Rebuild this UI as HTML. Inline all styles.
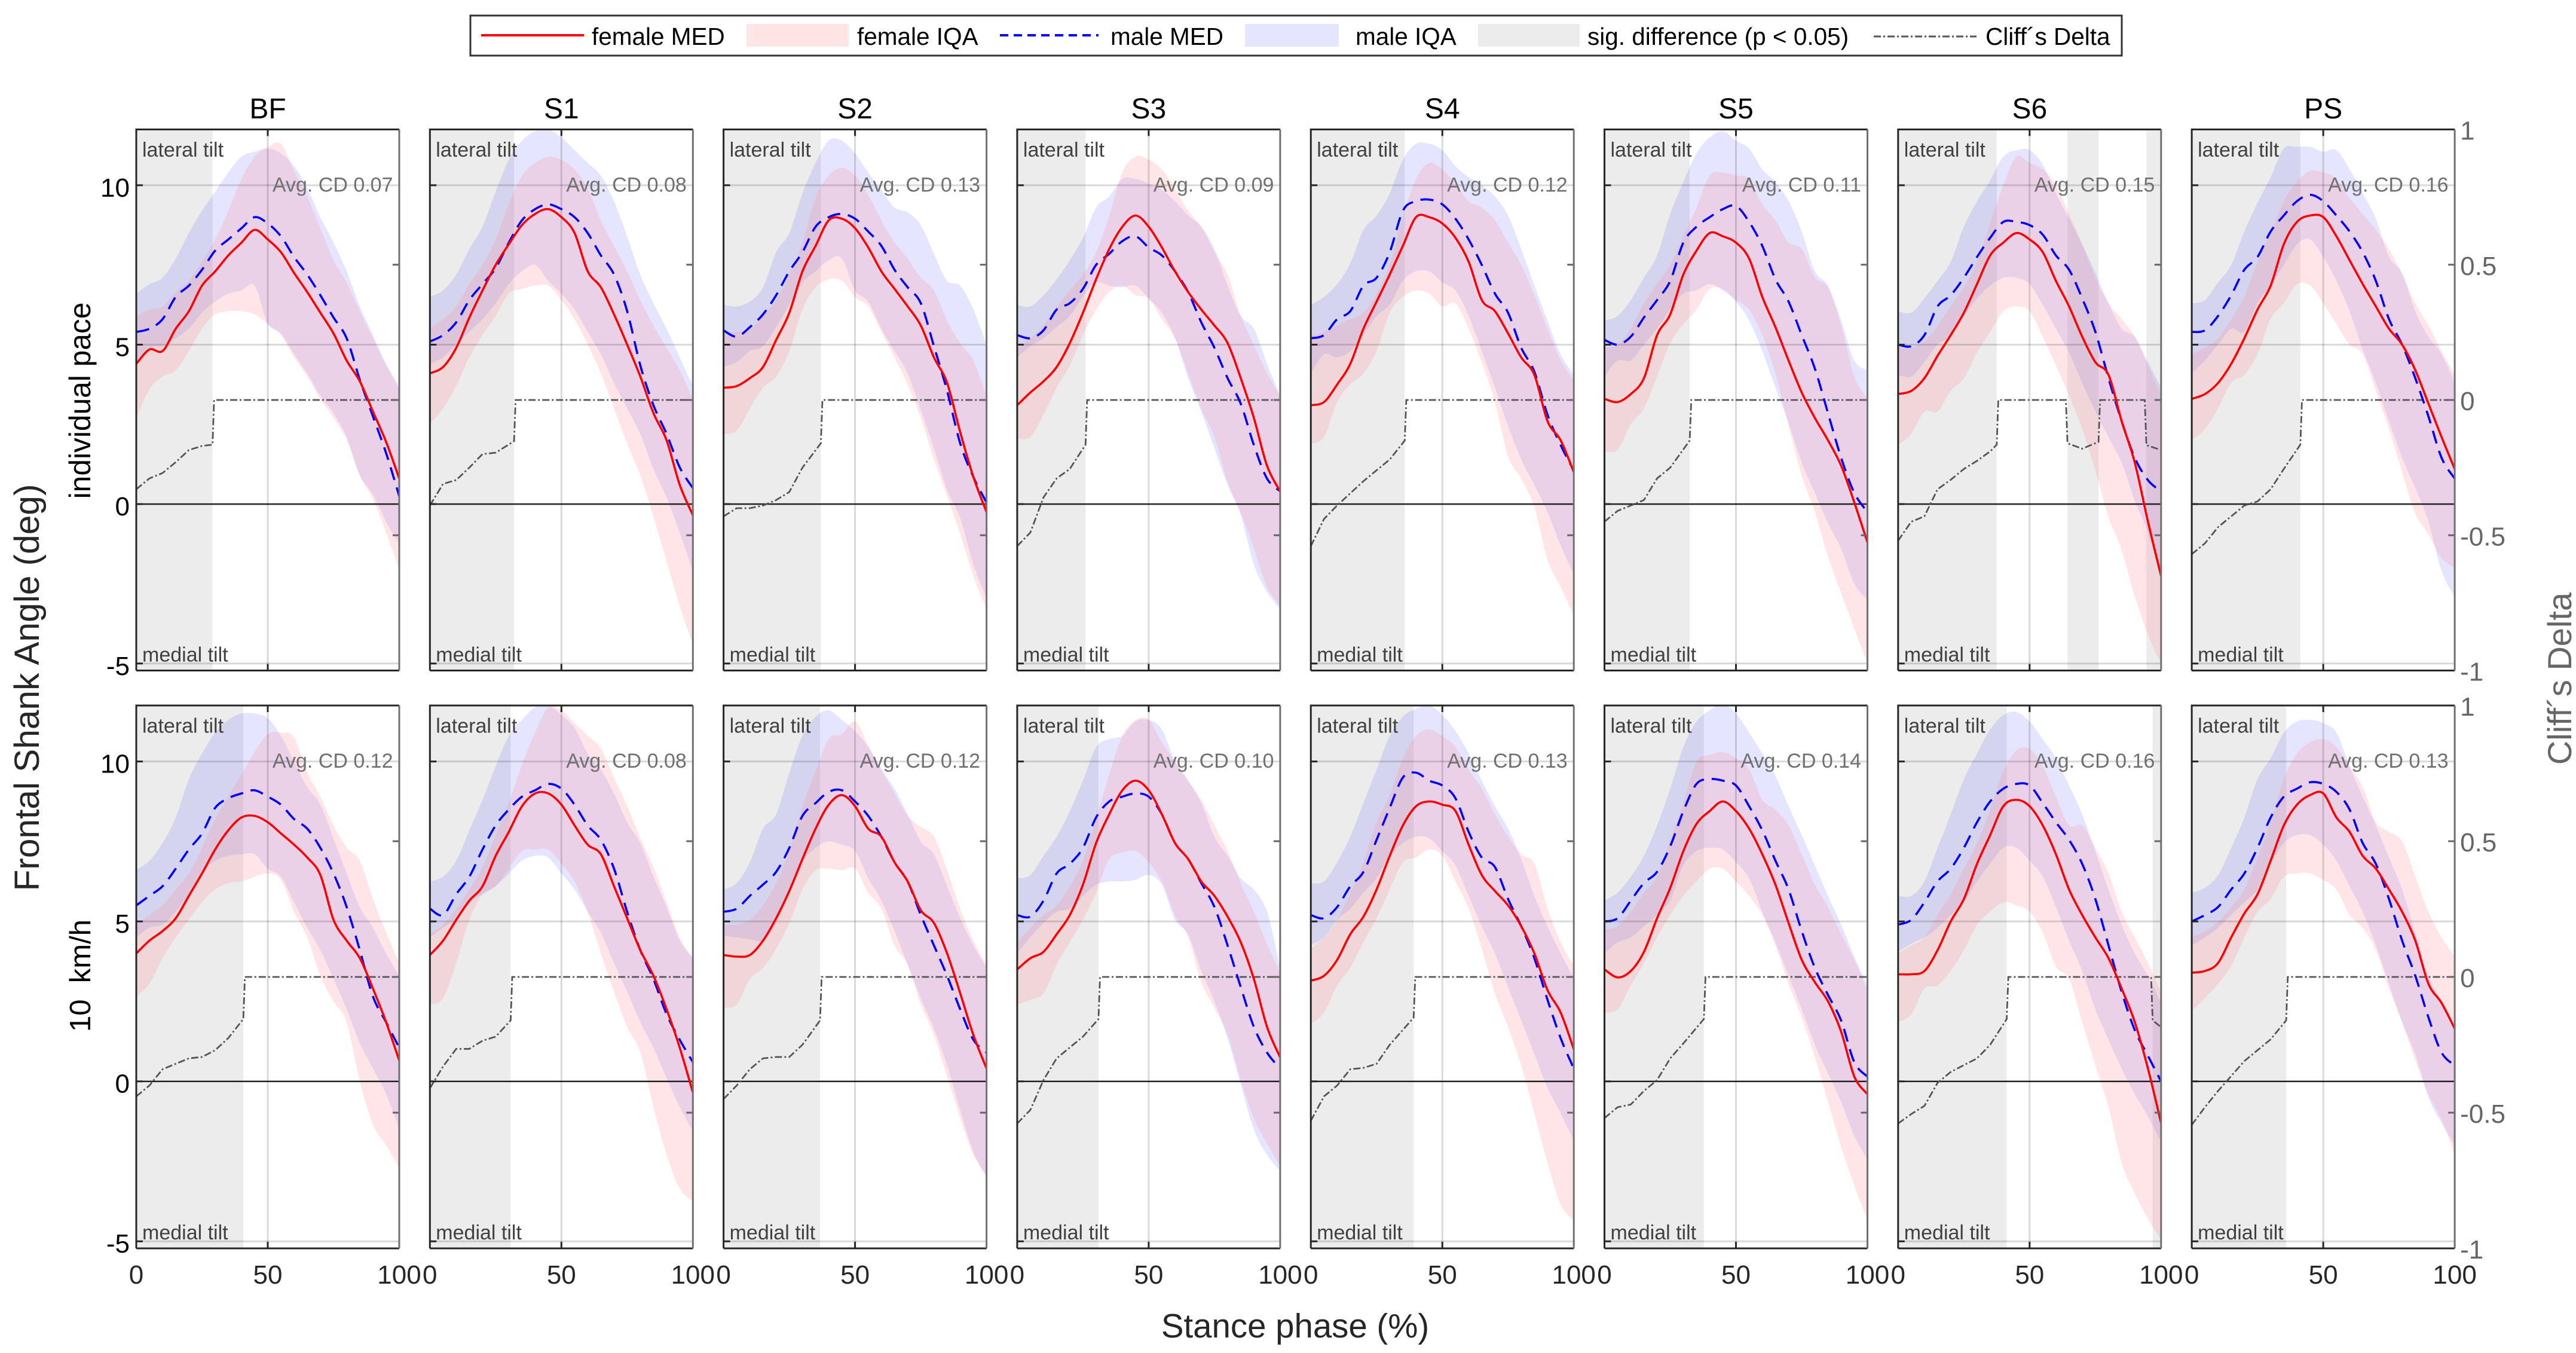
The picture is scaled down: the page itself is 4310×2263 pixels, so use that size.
<!DOCTYPE html>
<html lang="en">
<head>
<meta charset="utf-8">
<title>Frontal Shank Angle by stance phase</title>
<style>
html,body{margin:0;padding:0;background:#fff;}
svg{display:block;font-family:"Liberation Sans",Arial,sans-serif;}
</style>
</head>
<body>
<svg id="chart" xmlns="http://www.w3.org/2000/svg" width="4310" height="2263" viewBox="0 0 4310 2263">
  <rect x="0" y="0" width="4310" height="2263" fill="#fff"/>
  <g id="panels"></g>
  <g>
    <rect x="787" y="26" width="2763" height="67" fill="#fff" stroke="#333" stroke-width="3"/>
    <line x1="805" y1="59" x2="977" y2="59" stroke="#f00" stroke-width="4"/>
    <text x="990" y="75" font-size="40.5" fill="#000">female MED</text>
    <rect x="1249" y="40" width="171" height="38" fill="#ffe5e5"/>
    <text x="1434" y="75" font-size="40.5" fill="#000">female IQA</text>
    <line x1="1673" y1="59" x2="1838" y2="59" stroke="#00f" stroke-width="4" stroke-dasharray="14 9"/>
    <text x="1858" y="75" font-size="40.5" fill="#000">male MED</text>
    <rect x="2083" y="40" width="157" height="38" fill="#e5e5ff"/>
    <text x="2268" y="75" font-size="40.5" fill="#000">male IQA</text>
    <rect x="2473" y="40" width="170" height="38" fill="#ececec"/>
    <text x="2656" y="75" font-size="40.5" fill="#000">sig. difference (p &lt; 0.05)</text>
    <line x1="3135" y1="61" x2="3307" y2="61" stroke="#555" stroke-width="3" stroke-dasharray="12 4 3 4"/>
    <text x="3322" y="75" font-size="40.5" fill="#000">Cliff´s Delta</text>
  </g>
  <text x="2167" y="2237" font-size="56.4" fill="#262626" text-anchor="middle">Stance phase (%)</text>
  <text transform="translate(65,1150) rotate(-90)" font-size="58.6" fill="#262626" text-anchor="middle">Frontal Shank Angle (deg)</text>
  <text transform="translate(151,670) rotate(-90)" font-size="49.7" fill="#000" text-anchor="middle">individual pace</text>
  <text transform="translate(151,1632) rotate(-90)" font-size="49" fill="#000" text-anchor="middle">10&#160;&#160;km/h</text>
  <text transform="translate(4302,1135) rotate(-90)" font-size="56" fill="#666" text-anchor="middle">Cliff´s Delta</text>
</svg>
<script>
// ---------- data (degrees; one row per panel: BF..PS individual pace, then BF..PS 10 km/h) ----------
const phase = [0,5,10,15,20,25,30,35,40,45,50,55,60,65,70,75,80,85,90,95,100];
const panelNames = ['BF','S1','S2','S3','S4','S5','S6','PS'];
const avgCD = ['0.07','0.08','0.13','0.09','0.12','0.11','0.15','0.16','0.12','0.08','0.12','0.10','0.13','0.14','0.16','0.13'];
const leftTicks = [10,5,0,-5];
const rightTicks = [1,0.5,0,-0.5,-1];
const bottomTicks = [0,50,100];

const femaleMed = [
[4.4,4.85,4.8,5.5,6.05,6.85,7.3,7.8,8.2,8.6,8.3,7.9,7.25,6.65,6,5.35,4.5,3.85,2.9,1.95,.8],
[4.1,4.3,4.9,5.85,6.7,7.5,8.15,8.75,9.1,9.25,9,8.5,7.3,6.8,5.95,5,4,2.85,2,.6,-.35],
[3.65,3.7,3.95,4.3,5.15,6,7.3,8.1,8.9,8.95,8.65,8.05,7.3,6.75,6.2,5.6,4.6,3.8,2.25,.85,-.25],
[3.1,3.5,3.85,4.3,5.05,6,7.05,8,8.7,9.05,8.7,8.05,7.3,6.65,6.1,5.6,5.05,3.95,2.7,1.2,.4],
[3.1,3.2,3.75,4.4,5.5,6.35,7.2,8.1,9,9,8.8,8.35,7.6,6.4,6.05,5.35,4.6,4.05,2.6,2,1],
[3.3,3.2,3.45,3.95,5.3,5.95,7.2,7.95,8.5,8.4,8.2,7.7,6.5,5.55,4.5,3.5,2.7,2,1.2,.05,-1.2],
[3.45,3.55,3.95,4.65,5.3,6,6.9,7.8,8.2,8.5,8.3,7.9,7,6.2,5.25,4.45,4.05,2.6,1.3,-.55,-2.25],
[3.3,3.45,3.8,4.4,5.2,6.1,6.85,8.15,8.85,9.05,9,8.4,7.65,6.9,6.2,5.5,5,4.2,3.15,2.1,1.1],
[4,4.4,4.7,5.1,5.8,6.5,7.25,7.85,8.25,8.3,8.1,7.75,7.4,7,6.45,5.05,4.4,3.85,2.9,1.85,.65],
[3.95,4.4,5.05,5.65,6.1,7.05,7.8,8.6,9,9,8.65,8,7.4,7.1,6.1,5.1,4.1,3.3,2.25,1.05,-.35],
[3.95,3.9,3.95,4.4,5.1,5.95,6.95,7.9,8.65,8.95,8.6,7.9,7.65,6.85,6.25,5.35,4.95,4,2.75,1.45,.4],
[3.5,3.85,4.05,4.6,5.2,6.15,7.45,8.35,9.1,9.4,9.1,8.35,7.45,6.95,6.25,5.8,5.15,4.35,3.2,1.7,.75],
[3.15,3.3,3.8,4.6,5.15,6,7.05,8,8.6,8.75,8.65,8.45,7.4,6.45,5.95,5.5,4.85,4,2.85,2.15,1],
[3.5,3.25,3.45,4.05,5.1,6.05,7.2,8.05,8.45,8.75,8.45,7.9,7.1,6.15,4.95,3.8,3.1,2.5,1.55,.15,-.4],
[3.35,3.35,3.45,4.1,5,5.7,6.8,7.7,8.6,8.8,8.6,8,7.1,6,5.2,4.5,3.85,2.9,1.85,.4,-1.3],
[3.4,3.45,3.7,4.5,5.25,5.85,6.9,8,8.65,8.95,9,8.25,7.8,7.05,6.65,6,5.3,4.4,3.05,2.45,1.65]
];
const femaleLo = [
[2.7,3.6,4,4.2,4.8,5.5,5.95,6.05,6.05,5.95,5.65,5.3,4.6,4,3.3,2.7,2,.9,.15,-.9,-2.05],
[2.5,3,3.7,4.6,5.3,5.9,6.6,6.75,6.85,6.85,6.4,5.8,5,4.1,3,1.9,.9,-.4,-1.8,-3.2,-4.4],
[2.2,2.3,3,3.65,4,4.8,6.1,6.8,7.05,7,6.5,6.2,5.4,4.6,3.75,2.7,1.4,.25,-.95,-2.25,-3.3],
[2.05,2.1,2.8,3.65,4.35,5.3,6.1,6.65,6.85,6.55,6.45,5.8,5.2,4.1,3,2.1,.7,-.25,-1.4,-2.6,-3.2],
[1.9,2.1,3.2,3.75,4.1,4.8,6,6.5,6.7,6.6,6.2,6.3,5.5,4.45,3.2,1.5,.8,-.1,-1.75,-2.6,-3.5],
[1.65,1.7,2.5,3,4,5.05,5.65,6.1,6.75,6.75,6.4,6.1,5.3,4.1,2.45,.9,-.25,-1.65,-2.8,-3.9,-5],
[1.85,2.2,2.9,2.9,3.55,3.95,4.75,5.4,6.05,6.2,6.05,5.25,4.35,3.4,2.35,1.05,-.4,-1.45,-2.9,-4.1,-5],
[2,2.35,3,3.8,4.05,4.7,5.8,6.3,6.9,6.85,6.3,5.65,5,4.7,3.55,2.35,1,-.3,-.95,-1.7,-2],
[2.65,3.05,3.85,4.5,5.05,5.6,6,6.2,6.25,6.4,6.5,6.3,5.3,4.5,3.3,2.5,1.85,0,-1.35,-2,-2.7],
[2.4,2.6,3.7,5.05,5.85,6.1,6.65,7.2,7.25,7.25,6.8,6.25,5.3,4,2.8,1.7,.9,-.8,-2.3,-3.35,-3.75],
[2.3,2.4,3.2,3.55,4.15,4.95,6,6.6,6.65,6.6,6.65,5.9,5.4,4.25,3.65,2.4,1.45,.15,-1.15,-2.3,-2.95],
[2.4,2.55,2.75,3.65,4.35,5.05,5.9,6.95,7.15,7.2,6.85,6.25,5.2,4.5,3.1,2.3,1.45,.05,-1.15,-1.95,-2.65],
[1.8,2.15,3,3.55,4.35,5.1,6,6.85,7,7.25,7.05,6.25,5.4,4.15,2.75,1.7,.5,-1,-2.55,-3.85,-4.35],
[2.15,2.25,3,3.7,4.5,5.2,5.8,6.25,6.65,6.65,6.25,5.8,5.2,4.25,3.05,2,.75,-.65,-2.05,-3.25,-4.35],
[1.85,2.1,2.9,3,3.45,4.1,4.9,5.3,5.6,5.5,5.3,4.65,3.6,3.2,1.85,.5,-.8,-2.55,-3.5,-4.3,-4.95],
[2.2,2.6,3.05,3.6,4.5,5.3,5.7,6.4,6.5,6.5,6.3,6,5.2,4.8,4.1,2.9,1.85,.65,-.4,-1.2,-2.3]
];
const femaleHi = [
[5.9,6.1,6.2,6.65,7,7.6,8.3,9.2,10.2,10.9,11.2,11.3,10.45,9.65,8.65,7.65,6.95,6.05,5.2,4.35,3.6],
[5.5,5.8,6.2,6.9,7.5,8.3,9.4,10.3,10.7,10.9,10.8,10.5,9.9,8.9,8.1,7.3,6.4,5.6,4.9,4.2,3.3],
[5.4,5.4,5.5,5.9,6.4,7.2,8.2,9.6,10.3,10.55,10.3,9.7,8.9,8.2,7.7,7.1,6.7,5.75,5.05,4.5,3.4],
[4.9,5.2,5.6,6.2,6.7,7.2,7.9,9.05,10.4,10.9,10.8,10.5,9.9,9.2,8.7,7.9,7.2,5.9,5,4.1,3.4],
[5.3,5.4,5.6,5.8,6,6.6,7.5,9,10.2,10.7,10.5,10.05,9.5,9.3,8.9,8.2,7.5,6.55,5.5,4.5,3.9],
[4.9,5,5.5,6.3,6.9,7.5,8.4,9.3,10.3,10.4,10.3,10.2,9.4,8.9,8.2,8,7.1,6.8,5.6,4,3.3],
[4.9,4.9,5.1,5.6,6.2,6.8,7.6,8.8,10,10.9,10.7,10.5,10,9.1,8.15,7.1,6.3,5.8,5.25,4.35,3.4],
[4.7,4.9,5.2,5.8,6.5,7.6,8.5,9.5,10.1,10.45,10.4,10.2,9.6,9.1,8.6,8,7.2,6.3,5.6,4.8,4.05],
[4.9,5.2,5.5,6,6.5,7.3,8.2,8.9,9.6,10.3,10.85,10.9,10.75,9.65,8.9,8,7.3,6.9,5.7,4.65,3.7],
[4.6,4.9,5.4,6,6.7,7.7,8.7,9.9,10.9,11.7,11.6,11.2,10.8,10.4,9.5,8.6,7.6,6.7,5.6,4.5,3.85],
[4.9,4.9,5.05,5.5,6.2,7.2,8.6,9.7,10.7,10.85,11.25,10.5,9.75,9,8.3,7.95,7.65,6.6,5.4,4.4,3.65],
[4.35,4.8,5.2,5.5,6.1,6.9,8.2,9.6,10.8,11.3,11.3,10.6,10,9.4,8.8,8,7.2,6.2,5.3,4.3,3.4],
[4.15,4.5,5.05,5.9,6.85,8.1,8.95,10.1,10.8,11,10.8,10.45,9.75,9.15,8.35,7.65,7.1,6.8,5.4,4.35,3.6],
[4.75,4.85,5.3,5.9,6.4,7.55,8.7,10,10.2,10.3,10.1,9.75,8.8,8.5,8,7.1,6.15,5.45,4.6,3.8,2.85],
[4,4.25,4.5,5.2,5.85,6.65,7.45,8.5,9.7,10.35,10.4,9.85,8.9,8,8,7.3,6.5,5.3,4.5,3.7,2.8],
[4.5,4.7,5,5.45,6,7,8.1,9.45,10.25,10.6,10.7,10.45,9.85,9.2,8.1,7.8,7.5,6.4,5.3,4.5,3.9]
];
const maleMed = [
[5.4,5.5,5.8,6.5,6.85,7.35,7.95,8.3,8.65,9,8.8,8.4,7.75,7.2,6.55,5.85,5.2,3.9,2.75,1.6,.25],
[5.1,5.3,5.7,6.4,6.9,7.4,8.2,8.9,9.25,9.4,9.25,9,8.5,7.8,7.2,6.05,4.35,3.1,2.2,1.15,.5],
[5.45,5.25,5.55,5.95,6.55,7.3,7.9,8.7,9,9.1,8.95,8.55,8.1,7.35,6.8,6.3,4.95,3.55,1.9,.85,.05],
[5.3,5.2,5.45,6.1,6.3,6.75,7.5,7.85,8.25,8.4,8.05,7.8,7.3,6.65,5.7,4.9,3.95,3.15,1.85,.8,.4],
[5.2,5.3,5.8,6.05,6.85,7.1,7.9,9.2,9.5,9.55,9.4,8.95,8.3,7.5,6.6,6,4.9,4.15,2.8,1.85,1.05],
[5.15,5,5.25,5.85,6.4,7,8.2,8.7,9,9.25,9.35,8.85,8.1,7.05,6.35,5.3,4.25,2.85,1.45,.35,-.25],
[5,4.95,5.3,6.2,6.55,7.1,7.75,8.35,8.85,8.85,8.75,8.45,7.8,7.35,6.45,5.4,3.95,2.6,1.45,.75,.4],
[5.4,5.45,5.9,6.55,7.35,7.75,8.55,9.05,9.5,9.7,9.5,9.05,8.55,7.9,7,5.8,5,3.95,2.75,1.45,.8],
[5.5,5.8,6.1,6.65,7.25,7.75,8.55,8.85,9,9.1,8.9,8.65,8.2,7.9,7.3,6.5,5.45,4.1,2.65,1.85,1.05],
[5.4,5.2,5.85,6.4,7.25,8,8.5,8.9,9.1,9.3,9.15,8.65,8,7.55,6.65,5.3,4.1,3.2,2.1,1.3,.6],
[5.3,5.4,5.8,6.15,6.55,7.3,8.3,8.7,9.05,9.1,8.75,8.3,7.65,6.85,6.25,5.2,4.25,3.3,2.25,1.3,.9],
[5.2,5.15,5.65,6.5,6.8,7.3,8.25,8.75,8.9,9,8.9,8.35,7.45,6.95,6.2,5.45,4.25,2.95,1.7,.9,.4],
[5.2,5.1,5.45,6.1,6.55,7.55,8.55,9.5,9.65,9.4,9.25,8.85,7.8,7,6.7,5.7,4.85,3.85,2.55,1.35,.4],
[5,5.1,5.65,6.2,6.55,7.35,8.45,9.3,9.45,9.4,9.25,8.6,7.85,6.9,6,4.7,3.55,2.7,1.9,.6,.15],
[4.9,5.05,5.6,6.25,6.65,7.3,8.1,8.75,9.15,9.3,9.25,8.7,8.1,7.55,6.8,5.7,4.25,2.8,1.6,.8,0],
[5,5.2,5.45,6,6.5,7.3,8.25,8.9,9.15,9.35,9.3,9.05,8.5,7.45,6.8,5.7,4.4,3.3,2,.9,.5]
];
const maleLo = [
[4.5,4.9,4.95,5.2,5.5,6,6.35,6.6,6.7,6.85,5.65,5.35,4.7,4.1,3.4,2.85,2.1,.9,.3,-.55,-1.25],
[4.4,4.6,5,5.4,5.8,6.3,6.9,7.3,7.5,7,6.6,6.1,5.4,4.7,3.8,3,2.2,1.1,.2,-.9,-2.1],
[4.3,4.45,4.8,4.95,5.55,6.25,6.95,7.3,7.65,7.7,6.7,6.35,5.5,4.8,4.1,2.95,1.75,.45,-.45,-1.9,-2.95],
[4.6,4.95,5.2,5.55,5.9,6.5,6.95,6.85,6.8,6.85,6.45,6,5.2,3.95,2.9,1.75,.6,-.35,-1.9,-2.75,-3.3],
[4.1,4.7,4.6,4.8,5.3,5.9,6.25,7,7.3,7.3,6.95,6.7,5.9,4.8,3.65,2.45,1.4,.6,-.25,-1.3,-2.2],
[4,4.5,4.5,5,5.5,6.1,6.6,6.7,6.9,6.7,6.35,5.75,4.8,3.65,2.55,1.3,.35,-.6,-1.4,-2.5,-3],
[4.05,4,4.45,5,5.25,5.9,6.45,6.85,7.1,7.1,6.9,6.25,5.5,4.75,3.8,2.9,2.1,1.3,.1,-.9,-2.4],
[4.1,4.5,5,5.5,5.4,6.3,6.85,7.5,8.15,8.3,7.75,7,6.05,4.85,3.8,2.6,1.45,.5,-.55,-2.1,-2.9],
[4.5,4.8,4.9,5.3,5.85,6.5,6.9,7.05,7.1,7.1,6.65,6.4,5.6,4.8,4.1,3.2,2.25,1.2,.4,-.4,-1.5],
[4.5,4.8,5.1,5.6,5.85,6.1,6.5,6.9,7.05,7,6.5,6,5.3,4.65,3.7,2.8,1.85,1.05,.1,-.8,-1.55],
[4.55,4.5,4.45,4.4,4.95,5.9,6.85,7.3,7.5,7.4,7.2,6.35,5.65,4.7,3.65,2.6,1.65,.5,-.9,-2.2,-3],
[4,4.5,4.95,5.3,5.4,5.8,6.15,6.25,6.25,6.3,6.45,6.15,5.05,4.6,3.45,2.5,1.35,-.1,-1.5,-2.3,-2.8],
[4.25,4.5,5.05,5.4,5.9,6.35,7.05,7.45,7.65,7.6,7.2,6.75,5.8,4.85,4,2.95,1.9,.85,-.2,-1,-1.85],
[4,4.35,4.5,4.85,5.2,5.65,6.75,7.2,7.3,7.25,6.85,6.35,5.3,4.35,3.3,2.25,1.15,.25,-.65,-1.7,-2.45],
[4.05,4.3,4.5,4.8,5.2,5.6,6.25,6.8,7.3,7.3,6.9,6.4,5.45,4.4,3.45,2.25,1.3,.4,-.4,-1.1,-1.9],
[4.25,4.5,4.8,5.2,5.6,6,6.8,7.45,7.7,7.7,7.4,6.9,6.1,5.3,4.25,3.05,1.85,.85,-.5,-1.3,-2]
];
const maleHi = [
[6.6,6.9,7.1,7.7,8.5,9.2,9.8,10.4,10.9,11.05,11.15,11,10.6,9.9,9,8.2,7.3,6.2,5.3,4.4,3.7],
[6.5,6.7,7.2,8,8.7,9.8,10.8,11.4,11.7,11.75,11.5,11.1,10.7,10.3,9.5,8.4,7.2,6.3,5.5,4.6,3.7],
[6.25,6.2,6.35,6.8,7.9,8.5,9.75,10.7,11.4,11.4,11,10.4,9.85,9.3,9.15,8.75,7.85,7,6.85,6.1,5],
[6.25,6.2,6.55,7.05,7.65,8.35,9.3,9.65,10.2,10.2,10.05,9.85,9.5,9.05,8.7,8,6.85,5.9,5.5,4.4,3.4],
[6.25,6.5,6.9,7.55,8.6,9.05,9.75,10.8,11.3,11.3,11.1,10.6,10.25,10,9.65,9.05,8,6.85,5.75,4.7,4.05],
[5.75,5.9,6.4,7.1,7.8,9.1,10.1,11,11.5,11.7,11.4,11.15,10.5,10.1,9.5,8.55,7.3,6.85,5.75,4.5,4.2],
[6.05,6,6.45,7,7.6,8.7,9.5,10.15,10.9,11.1,11.1,10.65,9.75,8.95,8.15,7.25,6.3,5.5,5.25,4.45,3.65],
[6.3,6.4,6.95,7.5,8.55,9.45,10.25,11.15,11.2,11.2,11.05,11.1,10.5,9.75,8.95,7.75,7.25,6.05,5.25,4.7,3.8],
[6.6,6.9,7.45,8.25,9.45,10.25,10.9,11.3,11.5,11.5,11.35,10.8,10,9.2,8.65,7.6,6.5,5.45,4.8,4,3.3],
[6.25,6.4,6.9,7.85,8.8,9.85,10.8,11.3,11.7,11.75,11.45,11.05,10.25,9.75,9,8.1,7.45,6.4,5.45,4.4,3.85],
[6,6.2,6.85,7.9,8.35,9.65,10.8,11.4,11.6,11.3,10.95,10.45,9.75,9.15,8.35,7.5,7.1,6.1,5.1,4.25,3.55],
[6.35,6.45,7.05,7.65,8.45,9.4,10.45,10.7,10.8,11.25,11.3,11,10,9.4,8.7,7.65,7.05,6.35,6,5.3,3.55],
[6.2,6.25,6.85,7.65,8.7,9.75,10.8,11.4,11.65,11.75,11.45,10.95,10.25,9.4,8.6,7.9,6.95,5.8,4.85,4,3.25],
[5.65,5.9,6.4,7.05,8,9.15,10.45,11.25,11.6,11.8,11.5,10.9,10.25,9.55,8.6,7.7,6.75,5.8,4.9,3.9,3],
[5.8,5.8,6.25,7.3,8.35,9.45,10.25,11,11.45,11.55,11.25,10.7,10.1,9.25,8.35,7.2,6,4.9,4,3.3,2.45],
[5.9,6.05,6.45,7.3,8.25,9.45,10.1,10.9,11.25,11.3,11.2,10.9,9.85,8.9,8,7,6,4.65,3.3,2.5,1.7]
];
// Cliff's delta inside each significant stretch: [stance %, delta] pairs; 0 everywhere else.
const cliffDelta = [
[[[0,-.33],[5,-.29],[10,-.27],[15,-.23],[20,-.185],[25,-.17],[29,-.165]]],
[[[0,-.39],[5,-.31],[10,-.296],[15,-.25],[20,-.2],[25,-.195],[32,-.152]]],
[[[0,-.43],[5,-.4],[10,-.4],[15,-.39],[20,-.37],[25,-.34],[30,-.25],[37,-.16]]],
[[[0,-.54],[5,-.49],[10,-.36],[15,-.29],[20,-.255],[26,-.165]]],
[[[0,-.54],[5,-.44],[10,-.39],[15,-.345],[20,-.3],[25,-.26],[30,-.22],[35.7,-.15]]],
[[[0,-.45],[5,-.41],[10,-.39],[15,-.37],[20,-.29],[25,-.25],[32.4,-.15]]],
[[[0,-.52],[5,-.45],[10,-.43],[15,-.33],[20,-.295],[25,-.255],[30,-.225],[35,-.19],[37.5,-.165]],[[64.4,-.16],[70,-.18],[76.2,-.155]],[[94.4,-.167],[100,-.185]]],
[[[0,-.57],[5,-.53],[10,-.47],[15,-.43],[20,-.39],[25,-.375],[30,-.33],[35,-.255],[41.3,-.165]]],
[[[0,-.44],[5,-.4],[10,-.34],[15,-.32],[20,-.3],[25,-.295],[30,-.27],[35,-.225],[40.7,-.155]]],
[[[0,-.41],[5,-.33],[10,-.265],[15,-.265],[20,-.235],[25,-.22],[30.7,-.16]]],
[[[0,-.45],[5,-.4],[10,-.34],[15,-.3],[20,-.295],[25,-.295],[30,-.25],[36.7,-.16]]],
[[[0,-.54],[5,-.49],[10,-.38],[15,-.3],[20,-.26],[25,-.22],[30.9,-.155]]],
[[[0,-.53],[5,-.44],[10,-.4],[15,-.34],[20,-.335],[25,-.32],[30,-.25],[39.1,-.15]]],
[[[0,-.52],[5,-.48],[10,-.47],[15,-.42],[20,-.38],[25,-.3],[30,-.245],[37.8,-.155]]],
[[[0,-.54],[5,-.505],[10,-.475],[15,-.39],[20,-.35],[25,-.325],[30,-.3],[35,-.25],[41.3,-.155]],[[96.8,-.16],[100,-.185]]],
[[[0,-.545],[5,-.48],[10,-.42],[15,-.365],[20,-.31],[25,-.27],[30,-.23],[35.9,-.16]]]
];

// ---------- layout ----------
const NS = 'http://www.w3.org/2000/svg';
const panelLeft = 228, panelPitch = 491.3, panelWidth = 440;
const rowTop = [216.5, 1180], rowHeight = [905, 908];
const yMin = -5.22, yMax = 11.75;
const root = document.getElementById('panels');

function mk(tag, attrs, parent, txt){
  const el = document.createElementNS(NS, tag);
  for (const k in attrs) el.setAttribute(k, attrs[k]);
  if (txt !== undefined) el.textContent = txt;
  parent.appendChild(el);
  return el;
}
function curve(pts){
  let d = '';
  for (let i = 0; i < pts.length - 1; i++){
    const p0 = pts[i-1] || pts[i], p1 = pts[i], p2 = pts[i+1], p3 = pts[i+2] || p2;
    const c1 = [p1[0]+(p2[0]-p0[0])/6, p1[1]+(p2[1]-p0[1])/6];
    const c2 = [p2[0]-(p3[0]-p1[0])/6, p2[1]-(p3[1]-p1[1])/6];
    d += 'C'+c1[0].toFixed(1)+' '+c1[1].toFixed(1)+' '+c2[0].toFixed(1)+' '+c2[1].toFixed(1)+' '+p2[0].toFixed(1)+' '+p2[1].toFixed(1);
  }
  return d;
}
function linePath(pts){ return 'M'+pts[0][0].toFixed(1)+' '+pts[0][1].toFixed(1)+curve(pts); }
function bandPath(hi, lo){
  const rev = lo.slice().reverse();
  return linePath(hi)+'L'+rev[0][0].toFixed(1)+' '+rev[0][1].toFixed(1)+curve(rev)+'Z';
}

for (let r = 0; r < 2; r++){
  for (let c = 0; c < 8; c++){
    const idx = r*8 + c;
    const L = panelLeft + panelPitch*c, W = panelWidth, T = rowTop[r], H = rowHeight[r], B = T+H, R = L+W;
    const xOf = p => L + p/100*W;
    const yOf = v => T + (yMax - v)/(yMax - yMin)*H;
    const cyOf = v => T + H/2 - v*H/2;
    const ser = a => a[idx].map((v,i) => [xOf(phase[i]), yOf(v)]);

    const g = mk('g', {}, root);
    
    

    const clip = mk('clipPath', {id:'clip'+idx}, g);
    mk('rect', {x:L, y:T, width:W, height:H}, clip);

    const plot = mk('g', {'clip-path':'url(#clip'+idx+')'}, g);
    
    

    // significant stretches
    cliffDelta[idx].forEach(seg => {
      const a = seg[0][0], b = seg[seg.length-1][0];
      const s = mk('rect', {x:xOf(a), y:T, width:xOf(b)-xOf(a), height:H, fill:'#ececec'}, plot);
      
      
    });

    // IQA bands: male first, female on top so the overlap reads as the reference's mauve
    const mb = mk('path', {d:bandPath(ser(maleHi), ser(maleLo)), fill:'#00f', 'fill-opacity':0.1}, plot);
    
    
    const fb = mk('path', {d:bandPath(ser(femaleHi), ser(femaleLo)), fill:'#ff8e9b', 'fill-opacity':0.23}, plot);
    
    

    // grid
    [10,5,-5].forEach(v => {
      const gl = mk('line', {x1:L, x2:R, y1:yOf(v), y2:yOf(v), stroke:'#000', 'stroke-opacity':0.15, 'stroke-width':3}, plot);
      
      
    });
    const vg = mk('line', {x1:xOf(50), x2:xOf(50), y1:T, y2:B, stroke:'#000', 'stroke-opacity':0.15, 'stroke-width':3}, plot);
    
    
    const zl = mk('line', {x1:L, x2:R, y1:yOf(0), y2:yOf(0), stroke:'#222', 'stroke-width':2.5}, plot);
    
    

    // cliff's delta
    let cp = [];
    cliffDelta[idx].forEach(seg => {
      const a = seg[0][0], b = seg[seg.length-1][0];
      if (a > 0) cp.push([a-0.6, 0]);
      seg.forEach(q => cp.push(q));
      if (b < 100) cp.push([b+0.6, 0]);
    });
    if (cp[cp.length-1][0] < 100) cp.push([100, 0]);
    const cl = mk('polyline', {points:cp.map(q => xOf(q[0]).toFixed(1)+','+cyOf(q[1]).toFixed(1)).join(' '), fill:'none', stroke:'#555', 'stroke-width':2.8, 'stroke-dasharray':'12 4 3 4'}, plot);
    
    

    // medians
    const ml = mk('path', {d:linePath(ser(maleMed)), fill:'none', stroke:'#00f', 'stroke-width':3.6, 'stroke-dasharray':'22 13'}, plot);
    
    
    const fl = mk('path', {d:linePath(ser(femaleMed)), fill:'none', stroke:'#f00', 'stroke-width':3.6}, plot);
    
    

    // ticks
    leftTicks.forEach(v => {
      const t = mk('line', {x1:L, x2:L+11, y1:yOf(v), y2:yOf(v), stroke:'#262626', 'stroke-width':3}, g);
      
      
    });
    rightTicks.forEach(v => {
      const t = mk('line', {x1:R, x2:R-11, y1:cyOf(v), y2:cyOf(v), stroke:'#666', 'stroke-width':3}, g);
      
      
    });
    [T, B].forEach((y, i) => {
      const t = mk('line', {x1:xOf(50), x2:xOf(50), y1:y, y2:i ? y-11 : y+11, stroke:'#262626', 'stroke-width':3}, g);
      
      
    });

    // frame
    const f1 = mk('path', {d:'M'+L+' '+B+'V'+T+'H'+R, fill:'none', stroke:'#262626', 'stroke-width':3}, g);
    
    
    const f3 = mk('line', {x1:L, x2:R, y1:B, y2:B, stroke:'#262626', 'stroke-width':3}, g);
    
    
    const f2 = mk('line', {x1:R, x2:R, y1:T, y2:B, stroke:'#707070', 'stroke-width':3}, g);
    
    

    // annotations
    const lat = mk('text', {x:L+10, y:T+45.5, 'font-size':34, fill:'#404040'}, g, 'lateral tilt');
    
    
    const med = mk('text', {x:L+10, y:B-15, 'font-size':34, fill:'#404040'}, g, 'medial tilt');
    
    
    const avg = mk('text', {x:R-10.5, y:T+104, 'font-size':34, fill:'#707070', 'text-anchor':'end'}, g, 'Avg. CD '+avgCD[idx]);
    
    

    // titles and tick labels
    if (r === 0){
      const ti = mk('text', {x:L+W/2, y:198, 'font-size':48, fill:'#000', 'text-anchor':'middle'}, g, panelNames[c]);
      
      
    }
    if (c === 0){
      leftTicks.forEach(v => {
        const t = mk('text', {x:L-11, y:yOf(v)+19, 'font-size':44, fill:'#000', 'text-anchor':'end'}, g, String(v));
        
        
      });
    }
    if (c === 7){
      rightTicks.forEach(v => {
        const t = mk('text', {x:R+9, y:cyOf(v)+17, 'font-size':44, fill:'#666'}, g, String(v));
        
        
      });
    }
    if (r === 1){
      bottomTicks.forEach(v => {
        const t = mk('text', {x:xOf(v), y:2147, 'font-size':44, fill:'#262626', 'text-anchor':'middle'}, g, String(v));
        
        
      });
    }
  }
}
</script>
</body>
</html>
